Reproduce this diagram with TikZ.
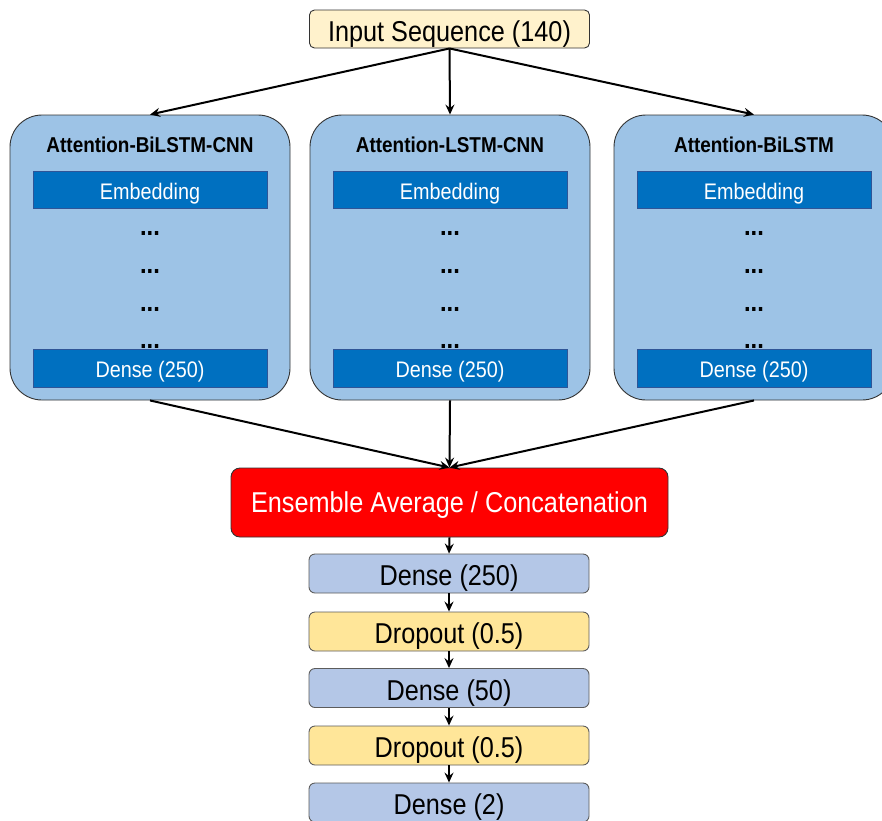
\documentclass[tikz,border=0pt]{standalone}
\usepackage{fontspec}
\setmainfont{Liberation Sans}[FakeStretch=0.88]
\usetikzlibrary{arrows.meta}
\definecolor{inyel}{HTML}{FFF2CC}
\definecolor{panelblue}{HTML}{9DC3E6}
\definecolor{barblue}{HTML}{0070C0}
\definecolor{barborder}{HTML}{2F5597}
\definecolor{denseblue}{HTML}{B4C7E7}
\definecolor{dropyel}{HTML}{FFE699}
\definecolor{edgegray}{HTML}{333333}
\tikzset{
  arr/.style={line width=2pt,-{Stealth[length=10pt,width=9pt,inset=3.5pt]}},
  bigtxt/.style={font=\fontsize{28.7}{30}\selectfont,text height=24.6pt,text depth=0pt},
  inbox/.style={draw=edgegray,line width=0.9pt,rounded corners=5pt,fill=inyel,minimum width=280pt,minimum height=38pt,inner sep=0pt,bigtxt},
  panel/.style={draw=edgegray,line width=0.9pt,rounded corners=32pt,fill=panelblue,minimum width=280pt,minimum height=285pt,inner sep=0pt},
  ptitle/.style={font=\fontsize{21.5}{22}\selectfont\bfseries,inner sep=0pt,text height=15.5pt,text depth=0pt},
  bar/.style={draw=barborder,line width=0.8pt,fill=barblue,text=white,minimum width=234pt,minimum height=37pt,inner sep=0pt,font=\fontsize{22.5}{24}\selectfont,text height=19pt,text depth=0pt},
  dots/.style={font=\fontsize{27}{28}\selectfont\bfseries,inner sep=0pt,anchor=base},
  ensbox/.style={draw=edgegray,line width=0.9pt,rounded corners=9pt,fill=red,text=white,minimum width=437pt,minimum height=69pt,inner sep=0pt,font=\fontsize{28.7}{30}\selectfont,text height=20.6pt,text depth=0pt},
  densebox/.style={draw=edgegray!80,line width=0.9pt,rounded corners=6pt,fill=denseblue,minimum width=280pt,minimum height=39pt,inner sep=0pt,bigtxt},
  dropbox/.style={draw=edgegray!80,line width=0.9pt,rounded corners=6pt,fill=dropyel,minimum width=280pt,minimum height=39pt,inner sep=0pt,bigtxt},
}
\begin{document}
\begin{tikzpicture}[x=1pt,y=-1pt]
\clip (0,0) rectangle (882,820);
\fill[white] (0,0) rectangle (882,820);

\node[inbox] (in) at (449.5,29) {Input Sequence (140)};

% panels
\node[panel] (p1) at (150,257.5) {};
\node[panel] (p2) at (450,257.5) {};
\node[panel] (p3) at (754,257.5) {};

\node[ptitle] (t1) at (150,145) {Attention-BiLSTM-CNN};
\node[ptitle] (t2) at (450,145) {Attention-LSTM-CNN};
\node[ptitle] (t3) at (754,145) {Attention-BiLSTM};

\node[bar] (e1) at (150,189.5) {Embedding};
\node[bar] (e2) at (450,189.5) {Embedding};
\node[bar] (e3) at (754,189.5) {Embedding};

\node[dots] (a1) at (150,235) {...};
\node[dots] (b1) at (150,273) {...};
\node[dots] (c1) at (150,311) {...};
\node[dots] (f1) at (150,348) {...};
\node[dots] (a2) at (450,235) {...};
\node[dots] (b2) at (450,273) {...};
\node[dots] (c2) at (450,311) {...};
\node[dots] (f2) at (450,348) {...};
\node[dots] (a3) at (754,235) {...};
\node[dots] (b3) at (754,273) {...};
\node[dots] (c3) at (754,311) {...};
\node[dots] (f3) at (754,348) {...};

\node[bar,minimum height=38pt] (g1) at (150,368) {Dense (250)};
\node[bar,minimum height=38pt] (g2) at (450,368) {Dense (250)};
\node[bar,minimum height=38pt] (g3) at (754,368) {Dense (250)};

\node[ensbox] (ens) at (449.5,502.5) {Ensemble Average / Concatenation};

\node[densebox] (d1) at (449,573.5) {Dense (250)};
\node[dropbox] (d2) at (449,631.5) {Dropout (0.5)};
\node[densebox] (d3) at (449,688) {Dense (50)};
\node[dropbox] (d4) at (449,745.5) {Dropout (0.5)};
\node[densebox] (d5) at (449,802.5) {Dense (2)};

% connectors
\draw[arr] (in.south) -- (p1.north);
\draw[arr] (in.south) -- (p2.north);
\draw[arr] (in.south) -- (p3.north);
\draw[arr] (p1.south) -- (ens.north);
\draw[arr] (p2.south) -- (ens.north);
\draw[arr] (p3.south) -- (ens.north);
\draw[arr] (ens.south) -- (d1.north);
\draw[arr] (d1.south) -- (d2.north);
\draw[arr] (d2.south) -- (d3.north);
\draw[arr] (d3.south) -- (d4.north);
\draw[arr] (d4.south) -- (d5.north);
\end{tikzpicture}
\end{document}
